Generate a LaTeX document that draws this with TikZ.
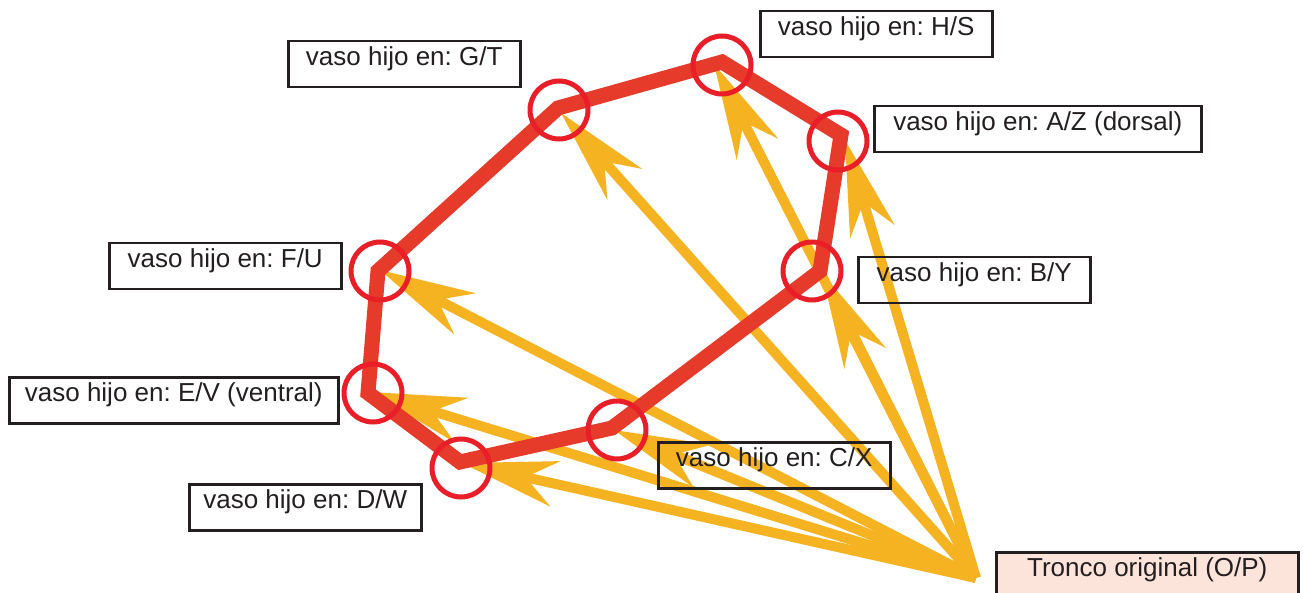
\documentclass[tikz,border=0pt]{standalone}
\usepackage{fontspec}
\setmainfont{Liberation Sans}
\usetikzlibrary{arrows.meta}
\definecolor{branchyellow}{RGB}{245,179,34}
\definecolor{vesselred}{RGB}{230,58,42}
\definecolor{ringred}{RGB}{233,30,40}
\definecolor{inkgray}{RGB}{35,31,32}
\definecolor{trunkpink}{RGB}{253,228,218}
\frenchspacing

\begin{document}
\begin{tikzpicture}[x=1pt,y=-1pt,
  branch/.style={draw=branchyellow, line width=10pt,
    -{Stealth[length=95pt,width=46pt,inset=30pt]}},
  vessel/.style={draw=vesselred, line width=15pt, line join=miter},
  ringmark/.style={circle, draw=ringred, line width=5pt,
    minimum size=58pt, inner sep=0pt},
  tag/.style={draw=inkgray, line width=2.5pt, text=inkgray,
    font=\fontsize{26pt}{30pt}\selectfont, anchor=north west,
    inner xsep=0pt, inner ysep=0pt, text height=24pt, text depth=22pt,
    minimum width=232pt},
  trunktag/.style={tag, fill=trunkpink, text depth=32pt, minimum width=302pt}]

% page frame
\fill[white] (0,0) rectangle (1303,593);
\useasboundingbox (0,0) rectangle (1303,593);

% corners of the vessel ring
\coordinate (F) at (378,271);
\coordinate (G) at (558,108);
\coordinate (H) at (722,62);
\coordinate (A) at (841,135);
\coordinate (B) at (820,271);
\coordinate (C) at (612,428);
\coordinate (D) at (460,462);
\coordinate (E) at (368,393);

% where the branches end
\coordinate (O) at (976,578);
\coordinate (tF) at (380,270);
\coordinate (tG) at (561,113);
\coordinate (tH) at (714,64);
\coordinate (tA) at (845,140);
\coordinate (tB) at (822,273);
\coordinate (tC) at (614,430);
\coordinate (tD) at (462,463);
\coordinate (tE) at (370,392);

% branches from the original trunk
\foreach \t in {tG,tH,tA,tB,tC,tD,tE,tF}
  \draw[branch] (O) -- (\t);

% the vessel ring
\draw[vessel] (F) -- (G) -- (H) -- (A) -- (B) -- (C) -- (D) -- (E) -- cycle;

% child vessel markers
\node[ringmark] (rG) at (559,110) {};
\node[ringmark] (rH) at (722,65) {};
\node[ringmark] (rA) at (838,141) {};
\node[ringmark] (rB) at (812,271) {};
\node[ringmark] (rC) at (617,430) {};
\node[ringmark] (rD) at (461,468) {};
\node[ringmark] (rE) at (373,393) {};
\node[ringmark] (rF) at (380,271) {};

% labels
\node[tag] (lG) at (287,40) {vaso hijo en: G/T};
\node[tag] (lH) at (759,10) {vaso hijo en: H/S};
\node[tag, minimum width=327pt] (lA) at (873,105) {vaso hijo en: A/Z (dorsal)};
\node[tag] (lB) at (857,256) {vaso hijo en: B/Y};
\node[tag] (lF) at (108,242) {vaso hijo en: F/U};
\node[tag, minimum width=329pt] (lE) at (8,376) {vaso hijo en: E/V (ventral)};
\node[tag] (lD) at (188,483) {vaso hijo en: D/W};
\node[tag] (lC) at (657,441) {vaso hijo en: C/X};
\node[trunktag] (lO) at (995,551) {Tronco original (O/P)};
\end{tikzpicture}
\end{document}
